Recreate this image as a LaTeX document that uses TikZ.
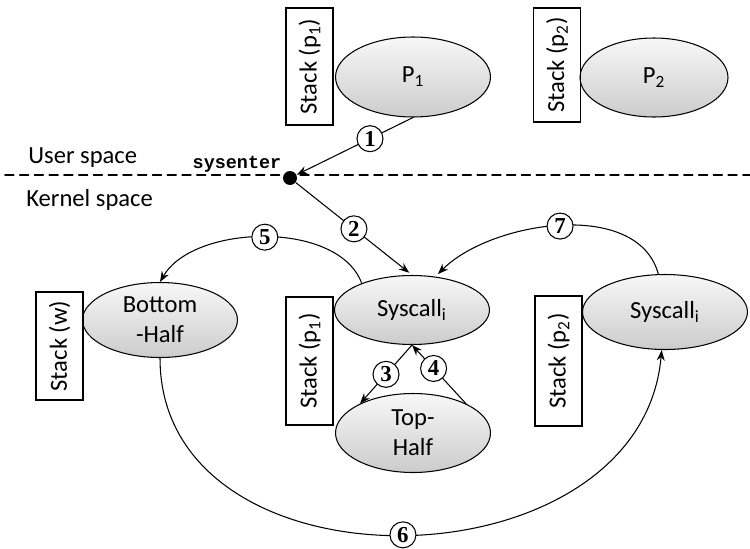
\documentclass[tikz,border=0pt]{standalone}
\usepackage{fontspec}
\setmainfont{Carlito}
\newfontfamily\numfont{Liberation Serif}
\newfontfamily\codefont{Liberation Mono}
\usetikzlibrary{arrows.meta, shapes.geometric, shadings}

\begin{document}
\begin{tikzpicture}[x=0.02cm, y=-0.02cm, line cap=round, line width=0.6pt,
    proc/.style={ellipse, draw, top color=gray!6, bottom color=gray!40, inner sep=0pt,
        minimum width=3.1cm, minimum height=1.5cm, align=center,
        font=\fontsize{14}{17}\selectfont},
    stackbox/.style={draw, rotate=90, minimum height=0.94cm, inner sep=0pt,
        font=\fontsize{14}{17}\selectfont},
    num/.style={circle, draw, fill=white, inner sep=0pt, minimum size=0.52cm,
        font=\numfont\bfseries\fontsize{13}{15}\selectfont},
    arr/.style={-{Stealth[length=6pt,width=4.5pt]}}]
    %\draw [step=50, very thin, lightgray] (0,0) grid (750,548);
    \useasboundingbox (0,0) rectangle (750,548);

    % user space
    \node[proc, minimum height=1.6cm] (p1) at (413,77) {P\textsubscript{1}};
    \node[stackbox, minimum width=2.34cm] (s1) at (309.5,66.5) {Stack (p\textsubscript{1})};
    \node[proc, minimum width=2.96cm, minimum height=1.58cm] (p2) at (654,77.5) {P\textsubscript{2}};
    \node[stackbox, minimum width=2.28cm] (s2) at (557,65) {Stack (p\textsubscript{2})};

    \draw [dash pattern=on 5pt off 3.4pt, line width=0.9pt] (5,175) -- (750,175);
    \node[anchor=west, font=\fontsize{14}{17}\selectfont] (user) at (22,158) {User space};
    \node[anchor=west, font=\fontsize{14}{17}\selectfont] (kernel) at (20,200) {Kernel space};
    \node[font=\codefont\bfseries\fontsize{10.5}{12}\selectfont] (sysl) at (237,164) {sysenter};
    \node[circle, fill, inner sep=0pt, minimum size=0.28cm] (dot) at (290,178) {};

    % kernel space
    \node[proc, minimum height=1.38cm] (sys) at (412,310) {Syscall\textsubscript{i}};
    \node[stackbox, minimum width=2.56cm] (s3) at (309.5,361) {Stack (p\textsubscript{1})};
    \node[proc, minimum height=1.58cm] (top) at (413,433) {Top-\\Half};
    \node[proc] (bot) at (160,320) {Bottom\\-Half};
    \node[stackbox, minimum width=2.16cm] (sw) at (59.5,346) {Stack (w)};
    \node[proc, minimum width=3.3cm] (sys2) at (665,312) {Syscall\textsubscript{i}};
    \node[stackbox, minimum width=2.6cm] (s4) at (558.5,361) {Stack (p\textsubscript{2})};

    \draw [arr] (p1.south) -- node[num, pos=0.37] {1} (dot);
    \draw [arr, shorten >=2pt] (dot) -- node[num] {2} (sys.north);
    \draw [arr] (sys.south) -- node[num] {3} (top.151);
    \draw [arr] (top.29) -- node[num, pos=0.6] {4} (sys.south);
    \draw [arr] (sys.152) to[out=110, in=60, looseness=0.85] node[num] {5} (bot.north);
    \draw [arr] (bot.south) to[out=-90, in=-95, looseness=1.23] node[num] {6} (sys2.265);
    \draw [arr, shorten >=2pt] (sys2.100) to[out=105, in=45, looseness=0.9] node[num] {7} (sys.55);
\end{tikzpicture}
\end{document}
